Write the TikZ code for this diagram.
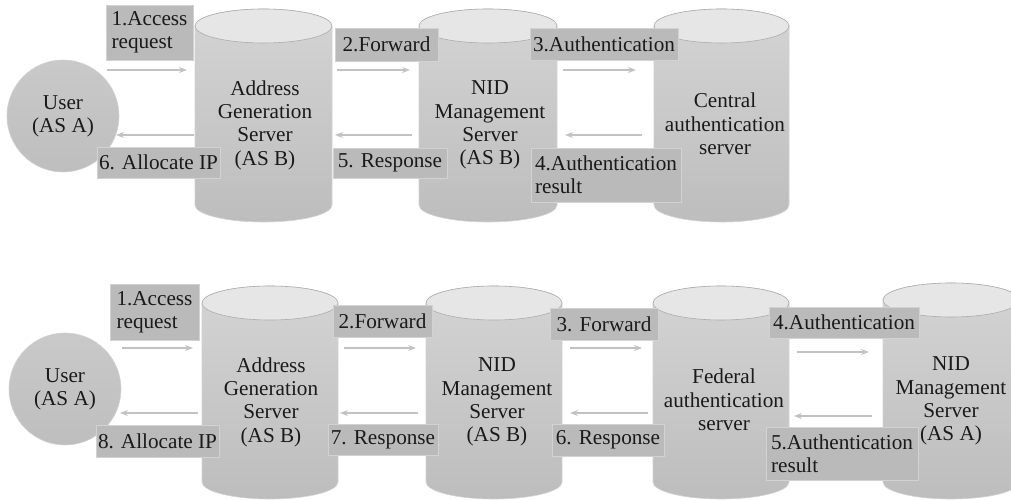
\documentclass[tikz,border=0pt]{standalone}
\usepackage{fontspec}
\setmainfont{Liberation Serif}
\usetikzlibrary{arrows.meta}

\definecolor{txt}{HTML}{1A1A1A}
\definecolor{boxfill}{HTML}{BABABA}
\definecolor{boxline}{HTML}{D2D2D2}
\definecolor{bodytop}{HTML}{D4D4D4}
\definecolor{bodybot}{HTML}{BDBDBD}
\definecolor{lidfill}{HTML}{E6E6E6}
\definecolor{lidline}{HTML}{ACACAC}
\definecolor{flow}{HTML}{C2C2C2}
\definecolor{usertop}{HTML}{C9C9C9}
\definecolor{userbot}{HTML}{BEBEBE}

% server drum: left, right, top, bottom (in pt, y upwards)
\newcommand\drum[4]{%
  \pgfmathsetmacro\drx{(#2-#1)/2}%
  \pgfmathsetmacro\dcx{(#2+#1)/2}%
  \shade[top color=bodytop,bottom color=bodybot,draw=boxline,line width=0.6pt]
    (#1,#3-17) -- (#1,#4+17)
    arc[start angle=180,end angle=360,x radius=\drx,y radius=17]
    -- (#2,#3-17)
    arc[start angle=0,end angle=180,x radius=\drx,y radius=17] -- cycle;
  \filldraw[fill=lidfill,draw=lidline,line width=0.6pt]
    (\dcx,#3-17) ellipse[x radius=\drx,y radius=17];
}

\tikzset{
  every node/.style={text=txt,font=\fontsize{21.2}{23.3}\selectfont},
  srvtext/.style={align=center,inner sep=0pt},
  user/.style={circle,minimum size=112pt,inner sep=0pt,align=center,
    top color=usertop,bottom color=userbot,draw=boxline,line width=0.6pt},
  tag/.style={fill=boxfill,draw=boxline,line width=0.8pt,align=left,
    inner xsep=2pt,inner ysep=2pt},
  flowarrow/.style={draw=flow,line width=1.2pt,
    -{Stealth[length=8pt,width=6pt]}},
}

\begin{document}
\begin{tikzpicture}[x=1pt,y=1pt]
\useasboundingbox (0,0) rectangle (1011,500);
\clip (0,0) rectangle (1011,500);

% ---------------- first scenario ----------------
\drum{195}{332}{491}{278}
\drum{419}{557}{491}{278}
\drum{654}{789}{491}{278}

\node[user] (userA1) at (63,384) {User\\(AS A)};
\node[srvtext] (ags1) at (265,375) {Address\\Generation\\Server\\(AS B)};
\node[srvtext] (nidB1) at (490,375) {NID\\Management\\Server\\(AS B)};
\node[srvtext] (cas) at (725,376) {Central\\authentication\\server};

\node[tag,minimum width=87pt,minimum height=55pt] (t1) at (149.5,467.5) {1.Access\\request};
\node[tag,minimum width=123pt,minimum height=31pt] (t6) at (158.5,337.5) {6. Allocate IP};
\node[tag,minimum width=103pt,minimum height=33pt] (t2) at (386.5,455.5) {2.Forward};
\node[tag,minimum width=114pt,minimum height=30pt] (t5) at (390,337) {5. Response};
\node[tag,minimum width=148pt,minimum height=32pt] (t3) at (604,456) {3.Authentication};
\node[tag,minimum width=150pt,minimum height=54pt] (t4) at (606,325) {4.Authentication\\result};

\coordinate (a1s) at (107,430); \coordinate (a1e) at (187,430);
\coordinate (a6s) at (194,365); \coordinate (a6e) at (116,365);
\coordinate (a2s) at (337,430); \coordinate (a2e) at (410,430);
\coordinate (a5s) at (412,365); \coordinate (a5e) at (335,365);
\coordinate (a3s) at (563,430); \coordinate (a3e) at (636,430);
\coordinate (a4s) at (642,365); \coordinate (a4e) at (565,365);
\foreach \k in {1,...,6}{\draw[flowarrow] (a\k s) -- (a\k e);}

% ---------------- second scenario ----------------
\drum{202}{338}{214}{1}
\drum{426}{562}{214}{1}
\drum{653}{789}{214}{1}
\drum{883}{1019}{217}{1}

\node[user] (userA2) at (65,111) {User\\(AS A)};
\node[srvtext] (ags2) at (271,98) {Address\\Generation\\Server\\(AS B)};
\node[srvtext] (nidB2) at (497,98) {NID\\Management\\Server\\(AS B)};
\node[srvtext] (fas) at (724,100) {Federal\\authentication\\server};
\node[srvtext] (nidA) at (951,99) {NID\\Management\\Server\\(AS A)};

\node[tag,minimum width=89pt,minimum height=56pt] (u1) at (154.5,188) {1.Access\\request};
\node[tag,minimum width=123pt,minimum height=32pt] (u8) at (157.5,59) {8. Allocate IP};
\node[tag,minimum width=99pt,minimum height=32pt] (u2) at (382.5,179) {2.Forward};
\node[tag,minimum width=110pt,minimum height=31pt] (u7) at (383,60.5) {7. Response};
\node[tag,minimum width=108pt,minimum height=32pt] (u3) at (604,176) {3. Forward};
\node[tag,minimum width=112pt,minimum height=32pt] (u6) at (608,60) {6. Response};
\node[tag,minimum width=150pt,minimum height=31pt] (u4) at (844,177.5) {4.Authentication};
\node[tag,minimum width=152pt,minimum height=53pt] (u5) at (842,46.5) {5.Authentication\\result};

\coordinate (b1s) at (122,152); \coordinate (b1e) at (193,152);
\coordinate (b8s) at (198,87);  \coordinate (b8e) at (120,87);
\coordinate (b2s) at (344,152); \coordinate (b2e) at (416,152);
\coordinate (b7s) at (418,87);  \coordinate (b7e) at (340,87);
\coordinate (b3s) at (570,152); \coordinate (b3e) at (642,152);
\coordinate (b6s) at (648,87);  \coordinate (b6e) at (570,87);
\coordinate (b4s) at (797,148); \coordinate (b4e) at (869,148);
\coordinate (b5s) at (872,84);  \coordinate (b5e) at (794,84);
\foreach \k in {1,...,8}{\draw[flowarrow] (b\k s) -- (b\k e);}
\end{tikzpicture}
\end{document}
